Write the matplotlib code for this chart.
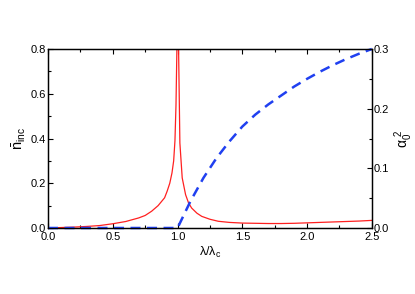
import matplotlib
matplotlib.use("Agg")
import matplotlib.pyplot as plt
from matplotlib.ticker import MultipleLocator

plt.rcParams['font.family'] = ['Liberation Sans', 'DejaVu Sans']

# photon number n_inc (left axis)
lam_n = [0.0, 0.1, 0.2, 0.3, 0.4, 0.5, 0.6, 0.7, 0.75, 0.8, 0.85, 0.9, 0.92,
         0.94, 0.957, 0.97, 0.98, 0.988, 0.995, 1.0, 1.008, 1.018, 1.036,
         1.062, 1.085, 1.109, 1.15, 1.187, 1.25, 1.315, 1.4, 1.5, 1.6, 1.7,
         1.8, 1.9, 2.0, 2.1, 2.2, 2.3, 2.4, 2.5]
n_inc = [0.0, 0.002, 0.004, 0.007, 0.011, 0.019, 0.029, 0.045, 0.056, 0.075,
         0.100, 0.135, 0.165, 0.200, 0.246, 0.300, 0.390, 0.550, 0.800, 1.200,
         0.800, 0.380, 0.224, 0.149, 0.112, 0.089, 0.066, 0.052, 0.039, 0.030,
         0.025, 0.022, 0.021, 0.020, 0.020, 0.021, 0.023, 0.025, 0.027,
         0.029, 0.031, 0.034]

# order parameter alpha_0^2 (right axis)
lam_a = [0.0, 0.5, 1.0, 1.1, 1.2, 1.3, 1.4, 1.5, 1.6, 1.7, 1.8, 1.9, 2.0,
         2.1, 2.2, 2.3, 2.4, 2.5]
alpha2 = [0.0, 0.0, 0.0, 0.045, 0.084, 0.117, 0.145, 0.170, 0.190, 0.207,
          0.222, 0.237, 0.250, 0.262, 0.273, 0.283, 0.292, 0.300]

fig = plt.figure(figsize=(4.15, 2.94), dpi=100)
ax = fig.add_axes([0.1157, 0.2245, 0.7803, 0.6088])
ax.plot(lam_n, n_inc, color='#ff2020', lw=0.9)
ax.set_xlim(0, 2.5)
ax.set_ylim(0, 0.8)
ax.xaxis.set_major_locator(MultipleLocator(0.5))
ax.xaxis.set_minor_locator(MultipleLocator(0.25))
ax.yaxis.set_major_locator(MultipleLocator(0.2))
ax.yaxis.set_minor_locator(MultipleLocator(0.1))
ax.tick_params(which='both', direction='in', top=True, right=False,
               labelsize=8, pad=1.5, width=0.8)
ax.tick_params(axis='x', which='both', pad=3)
ax.tick_params(which='major', length=3.5)
ax.tick_params(which='minor', length=2)
ax.set_xlabel(r'$\mathregular{\lambda/\lambda_c}$', fontsize=9, labelpad=2)
ax.set_ylabel(r'$\mathregular{\bar{n}_{inc}}$', fontsize=10.5, labelpad=2)

ax2 = ax.twinx()
ax2.plot(lam_a, alpha2, color='#2040f0', lw=1.8, ls=(0, (4, 2.6)),
         clip_on=False)
ax2.set_ylim(0, 0.3)
ax2.yaxis.set_major_locator(MultipleLocator(0.1))
ax2.yaxis.set_minor_locator(MultipleLocator(0.05))
ax2.tick_params(which='both', direction='in', labelsize=8, pad=1.5, width=0.8)
ax2.tick_params(which='major', length=3.5)
ax2.tick_params(which='minor', length=2)
ax2.set_ylabel(r'$\mathregular{\alpha_0^{\ 2}}$', fontsize=10, labelpad=2)

for a in (ax, ax2):
    for s in a.spines.values():
        s.set_linewidth(0.9)

fig.savefig('out.png', dpi=100)
